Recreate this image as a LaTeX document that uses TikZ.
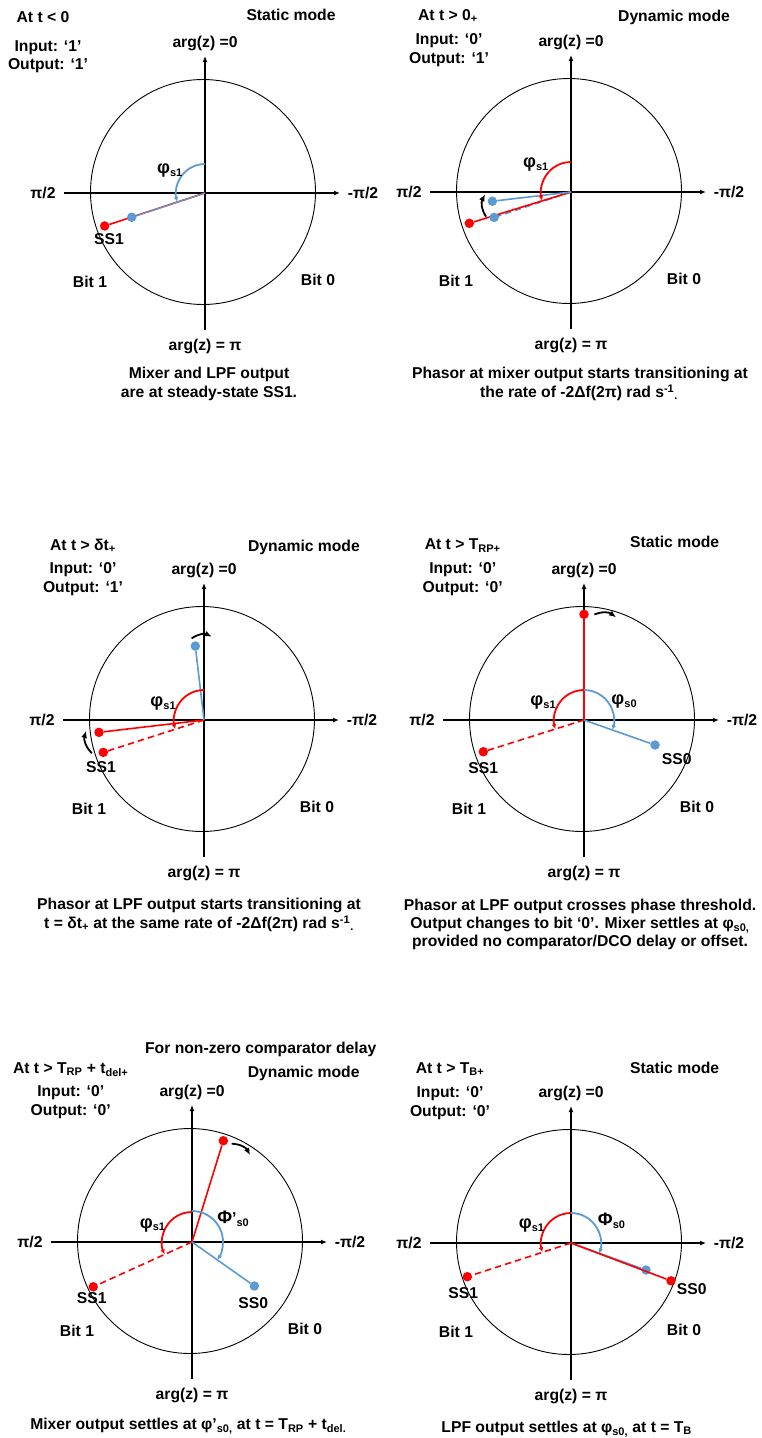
\documentclass[tikz,border=0pt]{standalone}
\usepackage{fontspec}
\usepackage{graphicx}
\setmainfont{Liberation Sans}
\definecolor{phred}{RGB}{255,0,0}
\definecolor{phblue}{RGB}{91,155,213}
\usetikzlibrary{arrows.meta}
\tikzset{
  txt/.style={font=\fontsize{15.7pt}{19pt}\selectfont\bfseries,inner sep=0pt,
    text height=11.2pt,text depth=0pt},
  axisln/.style={line width=1.8pt,-{Latex[length=6pt,width=5pt]}},
  rim/.style={line width=0.9pt},
  ph/.style={line width=1.6pt,draw=#1},
  dashph/.style={line width=1.6pt,draw=#1,dash pattern=on 6.5pt off 4pt},
  dot/.style={circle,fill=#1,inner sep=0pt,minimum size=9.5pt},
  angarc/.style={line width=1.8pt,draw=#1,-{Latex[length=5pt,width=4.5pt]}},
  spin/.style={line width=1.8pt,-{Latex[length=7pt,width=6pt]}},
  dial/.pic={
    \draw[rim] (-2,1) circle[radius=112.5];
    \draw[axisln] (-141,0) -- (135,0);
    \draw[axisln] (0,-137) -- (0,137);
    \node[txt] (-top) at (0,151) {arg(z) =0};
    \node[txt] (-bot) at (0,-152) {arg(z) = π};
    \node[txt] (-lft) at (-162,0) {π/2};
    \node[txt] (-rgt) at (158,0) {-π/2};
    \node[txt] (-b1) at (-115,-89) {Bit 1};
    \node[txt] (-b0) at (113,-87) {Bit 0};
  },
}

\begin{document}
\begin{tikzpicture}[x=1pt,y=1pt]
  \useasboundingbox[fill=white] (0,0) rectangle (761,-1438);

  \begin{scope}[shift={(205,-193)}]
    \pic (d1) {dial};
    \coordinate (o1) at (0,0);
    \node[dot=phred] (r1) at (198.2:105.6) {};
    \draw[ph=phred] (o1) -- (r1);
    \node[dot=phblue] (u1) at (198.3:77.2) {};
    \draw[ph=phblue,line width=1.2pt] (o1) -- (u1);
    \draw[angarc=phblue] (90:29) arc[start angle=90,end angle=198,radius=29];
    \node[txt] (phi1) at (-35,25) {\scalebox{1.15}{φ}\textsubscript{s1}};
    \node[txt] (ss1a) at (-96,-46) {SS1};
    \node[txt] (when1) at (-162,176) {At t < 0};
    \node[txt] (in1) at (-157,147) {Input: ‘1’};
    \node[txt] (out1) at (-157,129) {Output: ‘1’};
    \node[txt] (mode1) at (86,178) {Static mode};
    \node[txt] (cap1a) at (4,-180) {Mixer and LPF output};
    \node[txt] (cap1b) at (4,-199) {are at steady-state SS1.};
  \end{scope}

  \begin{scope}[shift={(571,-192)}]
    \pic (d2) {dial};
    \coordinate (o2) at (0,0);
    \coordinate (w2) at (198.3:81);
    \node[dot=phred] (r2) at (197.1:106.4) {};
    \draw[dashph=phblue] (o2) -- (w2);
    \draw[ph=phred] (o2) -- (r2);
    \node[dot=phblue] (u2) at (w2) {};
    \node[dot=phblue] (v2) at (186.7:79.2) {};
    \draw[ph=phblue] (o2) -- (v2);
    \draw[spin] (196.2:88.5) to[bend left=30] (181.5:86);
    \draw[angarc=phred] (90:30) arc[start angle=90,end angle=197,radius=30];
    \node[txt] (phi2) at (-35,30) {\scalebox{1.15}{φ}\textsubscript{s1}};
    \node[txt] (when2) at (-123,177) {At t > 0\textsubscript{+}};
    \node[txt] (in2) at (-122,153) {Input: ‘0’};
    \node[txt] (out2) at (-122,134) {Output: ‘1’};
    \node[txt] (mode2) at (103,176) {Dynamic mode};
    \node[txt] (cap2a) at (9,-181) {Phasor at mixer output starts transitioning at};
    \node[txt] (cap2b) at (8,-200) {the rate of -2Δf(2π) rad s\textsuperscript{-1}\textsubscript{.}};
  \end{scope}

  \begin{scope}[shift={(204,-720)}]
    \pic (d3) {dial};
    \coordinate (o3) at (0,0);
    \node[dot=phred] (r3) at (186.7:105.7) {};
    \node[dot=phred] (s3) at (197.8:105.8) {};
    \node[dot=phblue] (u3) at (96.7:74.5) {};
    \draw[dashph=phred] (o3) -- (s3);
    \draw[ph=phred] (o3) -- (r3);
    \draw[ph=phblue] (o3) -- (u3);
    \draw[spin] (196.5:117) to[bend left=30] (185.3:118.5);
    \draw[spin] (98.6:82.6) to[bend left=30] (84.7:83.7);
    \draw[angarc=phred] (90:30) arc[start angle=90,end angle=197.8,radius=30];
    \node[txt] (phi3) at (-40.7,19) {\scalebox{1.15}{φ}\textsubscript{s1}};
    \node[txt] (ss1c) at (-103,-47) {SS1};
    \node[txt] (when3) at (-121,175) {At t > δt\textsubscript{+}};
    \node[txt] (in3) at (-121,152) {Input: ‘0’};
    \node[txt] (out3) at (-121,133) {Output: ‘1’};
    \node[txt] (mode3) at (100,174) {Dynamic mode};
    \node[txt] (cap3a) at (-5,-184) {Phasor at LPF output starts transitioning at};
    \node[txt] (cap3b) at (-5,-203) {t = δt\textsubscript{+} at the same rate of -2Δf(2π) rad s\textsuperscript{-1}\textsubscript{.}};
  \end{scope}

  \begin{scope}[shift={(584,-720)}]
    \pic (d4) {dial};
    \coordinate (o4) at (0,0);
    \node[dot=phred] (r4) at (90:105.7) {};
    \node[dot=phred] (s4) at (197.5:105.6) {};
    \node[dot=phblue] (u4) at (-19.4:75.3) {};
    \draw[dashph=phred] (o4) -- (s4);
    \draw[ph=phred] (o4) -- (r4);
    \draw[ph=phblue] (o4) -- (u4);
    \draw[spin] (84.4:106) to[bend left=30] (72.7:107.6);
    \draw[angarc=phred] (90:30) arc[start angle=90,end angle=197.5,radius=30];
    \draw[angarc=phblue] (90:30) arc[start angle=90,end angle=-19.4,radius=30];
    \node[txt] (phi4) at (-40.7,20) {\scalebox{1.15}{φ}\textsubscript{s1}};
    \node[txt] (phj4) at (40.3,21) {\scalebox{1.15}{φ}\textsubscript{s0}};
    \node[txt] (ss1d) at (-100.7,-48.3) {SS1};
    \node[txt] (ss0d) at (92.7,-38.7) {SS0};
    \node[txt] (when4) at (-121.3,176) {At t > T\textsubscript{RP+}};
    \node[txt] (in4) at (-121.3,151.7) {Input: ‘0’};
    \node[txt] (out4) at (-121.3,132.7) {Output: ‘0’};
    \node[txt] (mode4) at (90.7,178.3) {Static mode};
    \node[txt] (cap4a) at (-4,-185) {Phasor at LPF output crosses phase threshold.};
    \node[txt] (cap4b) at (-4,-203.3) {Output changes to bit ‘0’. Mixer settles at φ\textsubscript{s0,}};
    \node[txt] (cap4c) at (-4,-221) {provided no comparator/DCO delay or offset.};
  \end{scope}

  \begin{scope}[shift={(192,-1242)}]
    \pic (d5) {dial};
    \coordinate (o5) at (0,0);
    \node[dot=phred] (r5) at (72.8:106) {};
    \node[dot=phred] (s5) at (204.4:108.4) {};
    \node[dot=phblue] (u5) at (-35.2:76.3) {};
    \draw[dashph=phred] (o5) -- (s5);
    \draw[ph=phred] (o5) -- (r5);
    \draw[ph=phblue] (o5) -- (u5);
    \draw[spin] (68:106) to[bend left=30] (56.3:104.6);
    \draw[angarc=phred] (90:30) arc[start angle=90,end angle=204.4,radius=30];
    \draw[angarc=phblue] (90:31) arc[start angle=90,end angle=-35.2,radius=31];
    \node[txt] (phi5) at (-39.3,19.3) {\scalebox{1.15}{φ}\textsubscript{s1}};
    \node[txt] (phj5) at (41.3,23.7) {\scalebox{1.15}{Φ}’\textsubscript{s0}};
    \node[txt] (ss1e) at (-100.3,-55.7) {SS1};
    \node[txt] (ss0e) at (61.3,-61.3) {SS0};
    \node[txt] (note5) at (68.7,194.3) {For non-zero comparator delay};
    \node[txt] (when5) at (-121.3,174.3) {At t > T\textsubscript{RP} + t\textsubscript{del+}};
    \node[txt] (mode5) at (111.7,170.3) {Dynamic mode};
    \node[txt] (in5) at (-121.3,151) {Input: ‘0’};
    \node[txt] (out5) at (-121.3,132) {Output: ‘0’};
    \node[txt] (cap5) at (-3.7,-182.3) {Mixer output settles at φ’\textsubscript{s0,} at t = T\textsubscript{RP} + t\textsubscript{del.}};
  \end{scope}

  \begin{scope}[shift={(571,-1243)}]
    \pic (d6) {dial};
    \coordinate (o6) at (0,0);
    \node[dot=phred] (s6) at (198:109) {};
    \node[dot=phblue] (u6) at (-19.8:79.7) {};
    \node[dot=phred] (r6) at (-20.7:106.9) {};
    \draw[dashph=phred] (o6) -- (s6);
    \draw[ph=phblue] (o6) -- (u6);
    \draw[ph=phred] (o6) -- (r6);
    \draw[angarc=phred] (90:30) arc[start angle=90,end angle=198,radius=30];
    \draw[angarc=phblue] (90:30) arc[start angle=90,end angle=-20.5,radius=30];
    \node[txt] (phi6) at (-39.3,19.7) {\scalebox{1.15}{φ}\textsubscript{s1}};
    \node[txt] (phj6) at (40.7,23) {\scalebox{1.15}{Φ}\textsubscript{s0}};
    \node[txt] (ss1f) at (-107.7,-49.7) {SS1};
    \node[txt] (ss0f) at (120.7,-46.3) {SS0};
    \node[txt] (when6) at (-121,175.3) {At t > T\textsubscript{B+}};
    \node[txt] (in6) at (-121,151.3) {Input: ‘0’};
    \node[txt] (out6) at (-121,132.3) {Output: ‘0’};
    \node[txt] (mode6) at (103.7,175.3) {Static mode};
    \node[txt] (cap6) at (-4.3,-183.7) {LPF output settles at φ\textsubscript{s0,} at t = T\textsubscript{B}};
  \end{scope}
\end{tikzpicture}
\end{document}
